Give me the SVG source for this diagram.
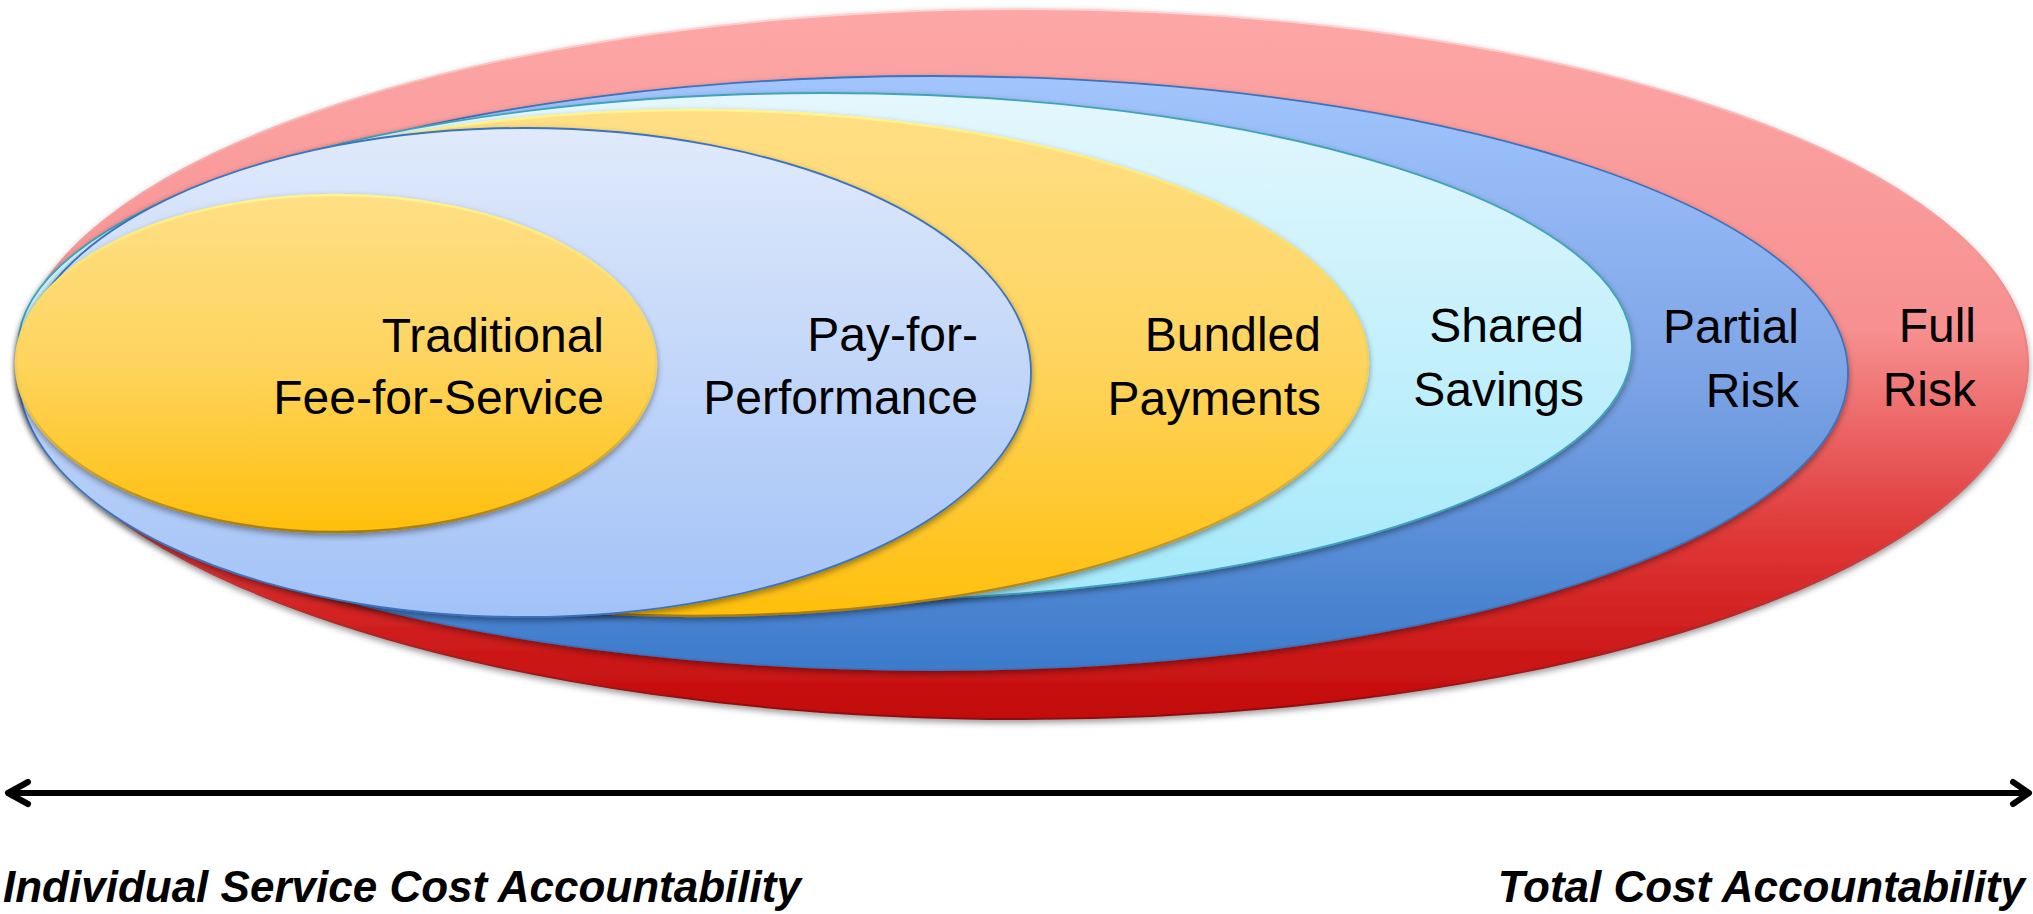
<svg xmlns="http://www.w3.org/2000/svg" width="2033" height="914" viewBox="0 0 2033 914">
<defs>
<linearGradient id="gRed" x1="0" y1="0" x2="0" y2="1">
<stop offset="0" stop-color="#FDA7A7"/>
<stop offset="0.45" stop-color="#F79090"/>
<stop offset="0.75" stop-color="#DE3535"/>
<stop offset="1" stop-color="#C20808"/>
</linearGradient>
<linearGradient id="gBlue" x1="0" y1="0" x2="0" y2="1">
<stop offset="0" stop-color="#A2C5FD"/>
<stop offset="0.5" stop-color="#7DA4E6"/>
<stop offset="1" stop-color="#3C7BCB"/>
</linearGradient>
<linearGradient id="gCyan" x1="0" y1="0" x2="0" y2="1">
<stop offset="0" stop-color="#E4F7FD"/>
<stop offset="1" stop-color="#A4E9FA"/>
</linearGradient>
<linearGradient id="gYellow" x1="0" y1="0" x2="0" y2="1">
<stop offset="0" stop-color="#FFDF86"/>
<stop offset="0.5" stop-color="#FED45E"/>
<stop offset="1" stop-color="#FFBF0C"/>
</linearGradient>
<linearGradient id="gLav" x1="0" y1="0" x2="0" y2="1">
<stop offset="0" stop-color="#E0EAFB"/>
<stop offset="1" stop-color="#A2C2F7"/>
</linearGradient>
<linearGradient id="sYellow" x1="0" y1="0" x2="0" y2="1">
<stop offset="0" stop-color="#FFF48A"/>
<stop offset="0.6" stop-color="#F2C94A"/>
<stop offset="1" stop-color="#A87C10"/>
</linearGradient>
<linearGradient id="sRed" x1="0" y1="0" x2="0" y2="1">
<stop offset="0" stop-color="#FFD2D2"/>
<stop offset="0.6" stop-color="#E66A6A"/>
<stop offset="1" stop-color="#8E0A0A"/>
</linearGradient>
<filter id="shadow" x="-5%" y="-5%" width="110%" height="115%">
<feDropShadow dx="0" dy="3" stdDeviation="3" flood-color="#000" flood-opacity="0.4"/>
</filter>
</defs>
<style>
.lbl{font-family:"Liberation Sans",Arial,sans-serif;font-size:48px;fill:#000;text-anchor:end}
.axis{font-family:"Liberation Sans",Arial,sans-serif;font-size:44px;font-weight:bold;font-style:italic;fill:#000}
.shape{filter:url(#shadow)}
</style>
<rect width="2033" height="914" fill="#FFFFFF"/>
<g id="full-risk">
<ellipse class="shape" cx="1023" cy="364" rx="1005" ry="355" fill="url(#gRed)" stroke="url(#sRed)" stroke-width="2"/>
<text class="lbl" x="1976" y="342">Full</text>
<text class="lbl" x="1976" y="406">Risk</text>
</g>
<g id="partial-risk">
<ellipse class="shape" cx="933" cy="373" rx="915" ry="297" fill="url(#gBlue)" stroke="#3A73BE" stroke-width="1.8"/>
<text class="lbl" x="1799" y="343">Partial</text>
<text class="lbl" x="1799" y="407">Risk</text>
</g>
<g id="shared-savings">
<ellipse class="shape" cx="825" cy="347" rx="807" ry="254" fill="url(#gCyan)" stroke="#3FA3B8" stroke-width="1.8"/>
<text class="lbl" x="1584" y="342">Shared</text>
<text class="lbl" x="1584" y="406">Savings</text>
</g>
<g id="bundled-payments">
<ellipse class="shape" cx="694" cy="363" rx="674" ry="253" fill="url(#gYellow)" stroke="url(#sYellow)" stroke-width="2.5"/>
<text class="lbl" x="1321" y="351">Bundled</text>
<text class="lbl" x="1321" y="415">Payments</text>
</g>
<g id="pay-for-performance">
<ellipse class="shape" cx="524.5" cy="372.5" rx="506.5" ry="244.5" fill="url(#gLav)" stroke="#3A73BE" stroke-width="1.8"/>
<text class="lbl" x="978" y="351">Pay-for-</text>
<text class="lbl" x="978" y="414">Performance</text>
</g>
<g id="traditional-ffs">
<ellipse class="shape" cx="336" cy="363.5" rx="320" ry="168.5" fill="url(#gYellow)" stroke="url(#sYellow)" stroke-width="2.5"/>
<text class="lbl" x="604" y="352">Traditional</text>
<text class="lbl" x="604" y="414">Fee-for-Service</text>
</g>
<g id="connectors" fill="none" stroke="#000" stroke-width="6" stroke-linecap="round" stroke-linejoin="round">
<line x1="9" y1="793" x2="2026" y2="793"/>
<polyline points="28,782 8,793 28,804"/>
<polyline points="2013,782 2029,793 2013,804"/>
</g>
<g id="axis-labels">
<text class="axis" x="3" y="902">Individual Service Cost Accountability</text>
<text class="axis" x="2025" y="902" text-anchor="end">Total Cost Accountability</text>
</g>
</svg>
